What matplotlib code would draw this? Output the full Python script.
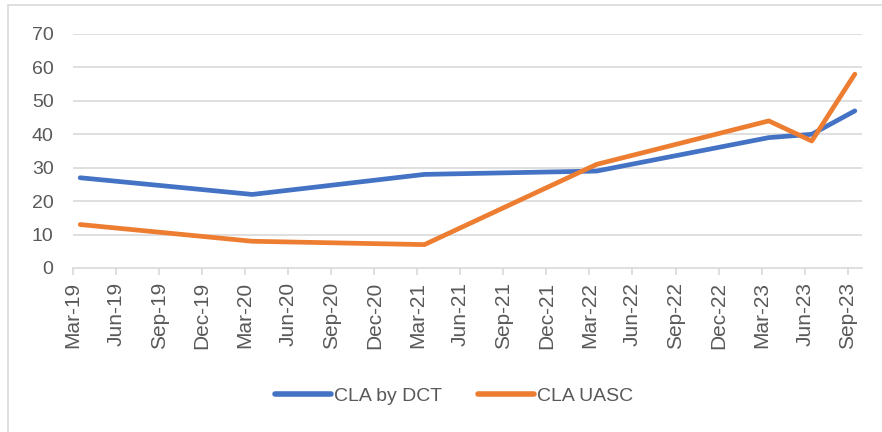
import matplotlib
matplotlib.use("Agg")
import matplotlib.pyplot as plt
from matplotlib.patches import Rectangle

tick_labels = ["Mar-19", "Jun-19", "Sep-19", "Dec-19", "Mar-20", "Jun-20", "Sep-20",
               "Dec-20", "Mar-21", "Jun-21", "Sep-21", "Dec-21", "Mar-22", "Jun-22",
               "Sep-22", "Dec-22", "Mar-23", "Jun-23", "Sep-23"]
point_dates = ["Mar-19", "Mar-20", "Mar-21", "Mar-22", "Mar-23", "Jun-23", "Sep-23"]
cla_by_dct = [27, 22, 28, 29, 39, 40, 47]
cla_uasc = [13, 8, 7, 31, 44, 38, 58]

months = {"Mar": 3, "Jun": 6, "Sep": 9, "Dec": 12}
def month_index(label):
    m, y = label.split("-")
    return (int(y) - 19) * 12 + months[m] - 3

tick_pos = [month_index(l) for l in tick_labels]
# Excel date axis: points sit in the middle of their month
xs = [month_index(d) + 0.5 for d in point_dates]

plt.rcParams['font.family'] = ['Liberation Sans', 'DejaVu Sans']

fig = plt.figure(figsize=(8.82, 4.32), dpi=100)
ax = fig.add_axes([73/882, 1-268/432, (862-73)/882, (268-34)/432])

grid_c = "#D9D9D9"
text_c = "#595959"

for v in range(10, 80, 10):
    ax.axhline(v, color=grid_c, lw=1.2, zorder=1)

ax.plot(xs, cla_by_dct, color="#4472C4", lw=3.4, solid_capstyle="round",
        solid_joinstyle="round", label="CLA by DCT", zorder=3)
ax.plot(xs, cla_uasc, color="#ED7D31", lw=3.4, solid_capstyle="round",
        solid_joinstyle="round", label="CLA UASC", zorder=4)

ax.set_xlim(0, 55)
ax.set_ylim(0, 70)
ax.set_yticks(range(0, 80, 10))
ax.set_xticks(tick_pos)
ax.set_xticklabels(tick_labels, rotation=90, fontsize=15, color=text_c)
ax.tick_params(axis="y", length=0, labelsize=14, labelcolor=text_c, pad=14)
ax.tick_params(axis="x", length=5, color=grid_c, width=1.2, pad=5)

for s in ["top", "right", "left"]:
    ax.spines[s].set_visible(False)
ax.spines["bottom"].set_color(grid_c)
ax.spines["bottom"].set_linewidth(1.2)

leg = fig.legend(loc="center", bbox_to_anchor=(454/882, 1-396/432), ncol=2,
                 frameon=False, fontsize=14, handlelength=2.9,
                 handletextpad=0.15, columnspacing=1.8)
for t in leg.get_texts():
    t.set_color(text_c)
for h in leg.get_lines():
    h.set_linewidth(4)
    h.set_solid_capstyle("round")

fig.patches.append(Rectangle((8/882, -0.2), 2.0, 1.2 - 5/432, transform=fig.transFigure,
                             fill=False, edgecolor=grid_c, lw=1.2))

fig.savefig("out.png", dpi=100)
